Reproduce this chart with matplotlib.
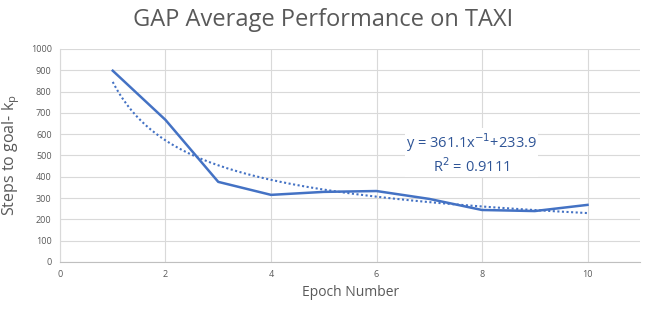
import matplotlib; matplotlib.use("Agg")
import matplotlib.pyplot as plt
import numpy as np

plt.rcParams["font.family"] = ["Open Sans", "DejaVu Sans"]

epochs = [1, 2, 3, 4, 5, 6, 7, 8, 9, 10]
steps = [898, 667, 376, 315, 329, 333, 296, 244, 239, 268]
eq_text = "y = 361.1x$^{-1}$+233.9\nR$^{2}$ = 0.9111"

blue = "#4472C4"
grid = "#D9D9D9"
gray = "#595959"

fig = plt.figure(figsize=(6.52, 3.10), dpi=100)
ax = fig.add_axes([0.092, 0.155, 0.890, 0.687])

ax.plot(epochs, steps, color=blue, lw=1.8, zorder=3)

# power trendline fitted to the data
x = np.array(epochs, float)
b, a = np.polyfit(np.log(x), np.log(steps), 1)
xt = np.linspace(1, 10, 200)
ax.plot(xt, np.exp(a) * xt ** b, color=blue, lw=1.5, ls=(0, (1, 1.2)), zorder=3)

ax.text(7.8, 510, eq_text, color="#2F5597", fontsize=10.5, ha="center", va="center",
        linespacing=1.2, bbox=dict(facecolor="white", edgecolor="none", pad=1), zorder=4)

ax.set_xlim(0, 11)
ax.set_ylim(0, 1000)
ax.set_xticks(range(0, 11, 2))
ax.set_yticks(range(0, 1001, 100))
ax.grid(True, color=grid, lw=0.8, zorder=0)
ax.tick_params(length=0, labelsize=6.5, labelcolor=gray, pad=6)
for s in ["top", "right"]:
    ax.spines[s].set_visible(False)
ax.spines["left"].set_color(grid)
ax.spines["bottom"].set_color("#BFBFBF")

ax.set_xlabel("Epoch Number", fontsize=10, color=gray, labelpad=4)
ax.set_ylabel("Steps to goal- k$_\\mathregular{p}$", fontsize=11.5, color=gray, labelpad=6)
fig.text(0.495, 0.935, "GAP Average Performance on TAXI", fontsize=17, color=gray,
         ha="center", va="center")

fig.savefig("out.png", dpi=100)
